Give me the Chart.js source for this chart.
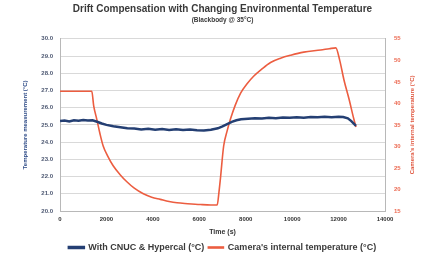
<!DOCTYPE html>
<html>
<head>
<meta charset="utf-8">
<title>Drift Compensation</title>
<script src="https://cdn.jsdelivr.net/npm/chart.js"></script>
<style>
  html, body { margin: 0; padding: 0; background: #fff; }
  #wrap { width: 427px; height: 262px; }
</style>
</head>
<body>
<div id="wrap"><canvas id="grafica" width="427" height="262"></canvas></div>
<script>
// datos
const xTicks = [0, 2000, 4000, 6000, 8000, 10000, 12000, 14000];
const leftTicks = [20, 21, 22, 23, 24, 25, 26, 27, 28, 29, 30];
const rightTicks = [15, 20, 25, 30, 35, 40, 45, 50, 55];

const blueTime = [0, 200, 400, 600, 800, 1000, 1200, 1400, 1600, 1800, 2000, 2300, 2600, 2900, 3200, 3500, 3800, 4100, 4400, 4700, 5000, 5300, 5600, 5900, 6200, 6500, 6800, 7000, 7200, 7400, 7600, 7800, 8100, 8400, 8700, 9000, 9300, 9600, 9900, 10200, 10500, 10800, 11100, 11400, 11700, 12000, 12200, 12400, 12550, 12750];
const blueTemp = [25.22, 25.26, 25.20, 25.27, 25.24, 25.28, 25.25, 25.27, 25.18, 25.08, 25.00, 24.92, 24.86, 24.80, 24.79, 24.74, 24.77, 24.72, 24.76, 24.71, 24.74, 24.70, 24.73, 24.69, 24.67, 24.72, 24.80, 24.92, 25.05, 25.18, 25.27, 25.33, 25.36, 25.39, 25.37, 25.41, 25.39, 25.43, 25.41, 25.44, 25.42, 25.46, 25.44, 25.47, 25.45, 25.48, 25.46, 25.38, 25.22, 24.95];

const redTime = [0, 1370, 1450, 1585, 1720, 1860, 2050, 2290, 2580, 2880, 3200, 3590, 3950, 4320, 4700, 5040, 5500, 6050, 6500, 6770, 6850, 6910, 7050, 7200, 7340, 7550, 7780, 8050, 8340, 8700, 9070, 9500, 9940, 10500, 11230, 11600, 11880, 12050, 12230, 12450, 12660, 12750];
const redTemp = [42.8, 42.8, 39.5, 36.3, 33.0, 30.1, 27.8, 25.5, 23.5, 21.8, 20.3, 19.0, 18.2, 17.7, 17.2, 16.9, 16.7, 16.5, 16.4, 16.4, 19.5, 22.5, 30.1, 33.6, 36.3, 39.6, 42.4, 44.5, 46.3, 48.0, 49.5, 50.5, 51.2, 51.9, 52.4, 52.7, 52.9, 50.0, 45.5, 41.0, 36.3, 34.5];

const fuente = "'Liberation Sans', Arial, sans-serif";

// titulo del eje derecho (se lee de abajo hacia arriba)
const tituloDerecho = {
  id: 'tituloDerecho',
  afterDraw(chart) {
    const ctx = chart.ctx;
    const a = chart.chartArea;
    ctx.save();
    ctx.translate(412, (a.top + a.bottom) / 2);
    ctx.rotate(-Math.PI / 2);
    ctx.font = 'bold 6px ' + fuente;
    ctx.fillStyle = '#e0573f';
    ctx.textAlign = 'center';
    ctx.textBaseline = 'middle';
    ctx.fillText("Camera's internal temperature (°C)", 0, 0);
    ctx.restore();
  }
};

const ctx = document.getElementById('grafica').getContext('2d');
new Chart(ctx, {
  type: 'line',
  data: {
    datasets: [{
      label: 'With CNUC & Hypercal (°C)',
      data: blueTime.map((t, i) => ({ x: t, y: blueTemp[i] })),
      borderColor: '#243f73',
      backgroundColor: '#243f73',
      borderWidth: 2.5,
      pointRadius: 0,
      yAxisID: 'y'
    }, {
      label: "Camera's internal temperature (°C)",
      data: redTime.map((t, i) => ({ x: t, y: redTemp[i] })),
      borderColor: '#ec5d40',
      backgroundColor: '#ec5d40',
      borderWidth: 1.6,
      pointRadius: 0,
      cubicInterpolationMode: 'monotone',
      yAxisID: 'y2'
    }]
  },
  options: {
    responsive: false,
    animation: false,
    layout: { padding: { left: 18, right: 0, top: 0, bottom: 0 } },
    plugins: {
      title: {
        display: true,
        text: 'Drift Compensation with Changing Environmental Temperature',
        color: '#3a3a3a',
        font: { family: fuente, size: 10, weight: 'bold' },
        padding: { top: 3, bottom: 1 }
      },
      subtitle: {
        display: true,
        text: '(Blackbody @ 35°C)',
        color: '#3a3a3a',
        font: { family: fuente, size: 6.5, weight: 'bold' },
        padding: { top: 0, bottom: 15 }
      },
      legend: {
        position: 'bottom',
        labels: {
          boxWidth: 15,
          boxHeight: 1,
          padding: 4,
          color: '#3a3a3a',
          font: { family: fuente, size: 9, weight: 'bold' }
        }
      },
      tooltip: { enabled: false }
    },
    scales: {
      x: {
        type: 'linear',
        min: 0,
        max: 14000,
        afterBuildTicks: s => { s.ticks = xTicks.map(v => ({ value: v })); },
        grid: { display: false, drawTicks: true, tickLength: 3 },
        border: { color: '#b8b8b8' },
        ticks: {
          color: '#333',
          font: { family: fuente, size: 6, weight: 'bold' },
          padding: 2,
          maxRotation: 0,
          callback: v => String(v)
        },
        title: {
          display: true,
          text: 'Time (s)',
          color: '#333',
          font: { family: fuente, size: 7, weight: 'bold' },
          padding: { top: 2, bottom: 3 }
        },
        afterFit: s => { s.height = 28; }
      },
      y: {
        position: 'left',
        min: 20,
        max: 30,
        afterBuildTicks: s => { s.ticks = leftTicks.map(v => ({ value: v })); },
        grid: { color: '#d9d9d9', drawTicks: false },
        border: { color: '#b8b8b8' },
        ticks: {
          color: '#4b5670',
          font: { family: fuente, size: 6, weight: 'bold' },
          padding: 7,
          callback: v => v.toFixed(1)
        },
        title: {
          display: true,
          text: 'Temperature measurement (°C)',
          color: '#2d4a86',
          font: { family: fuente, size: 6, weight: 'bold' },
          padding: { top: 4, bottom: 0 }
        },
        afterFit: s => { s.width = 42; }
      },
      y2: {
        position: 'right',
        min: 15,
        max: 55,
        afterBuildTicks: s => { s.ticks = rightTicks.map(v => ({ value: v })); },
        grid: { display: false, drawTicks: false },
        border: { color: '#b8b8b8' },
        ticks: {
          color: '#ec6a52',
          font: { family: fuente, size: 6, weight: 'bold' },
          padding: 9
        },
        afterFit: s => { s.width = 42; }
      }
    }
  },
  plugins: [tituloDerecho]
});
</script>
</body>
</html>
